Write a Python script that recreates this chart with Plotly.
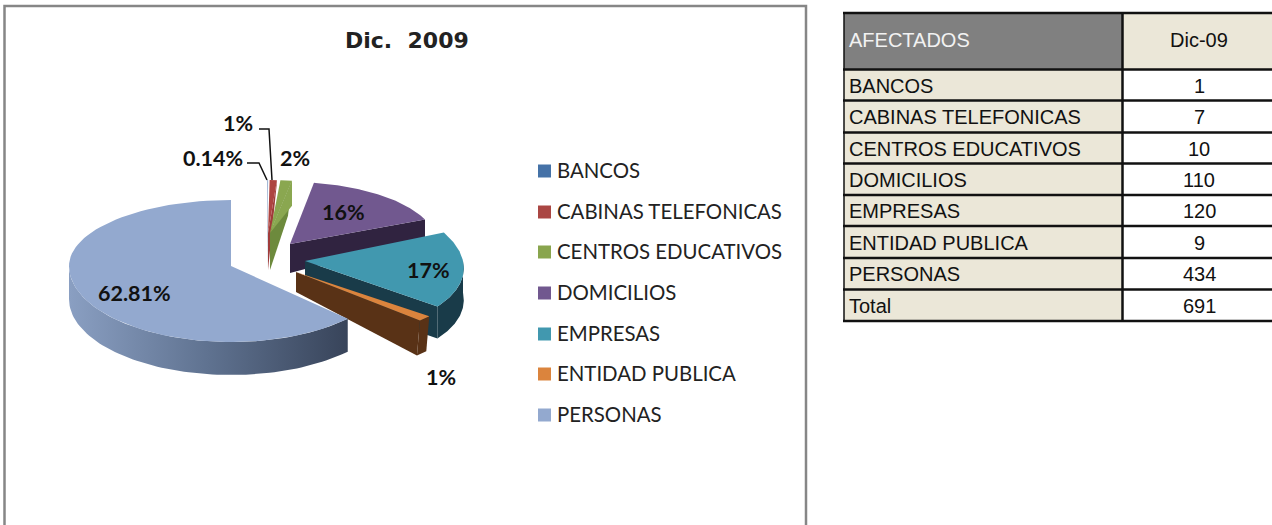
import math
import plotly.graph_objects as go

# ---------- data ----------
categories = ["BANCOS", "CABINAS TELEFONICAS", "CENTROS EDUCATIVOS", "DOMICILIOS",
              "EMPRESAS", "ENTIDAD PUBLICA", "PERSONAS"]
values = [1, 7, 10, 110, 120, 9, 434]
total_label = "Total"
total_value = 691
pct_labels = ["0.14%", "1%", "2%", "16%", "17%", "1%", "62.81%"]
title_text = "Dic.  2009"
table_head = ["AFECTADOS", "Dic-09"]

# ---------- styles ----------
top_colors = ["#a3b8d6", "#ad4441", "#8aa750", "#71588f", "#4198af", "#db843d", "#93a9cf"]
side_colors = ["#8fa3c0", "#a03c3a", "#6d8a3d", "#302340", "#193b49", "#593216", None]
swatch_colors = ["#4572a7", "#aa4643", "#89a54e", "#71588f", "#4198af", "#db843d", "#93a9cf"]

# per-slice projection: apex x, apex y, rx, ry up, ry down, shear, depth at apex, depth at rim, rim x shift
geom = [
    (267, 233, 123, 53, 53, 0.0, 37, 2, 0),
    (268, 233, 123, 53, 53, 0.0, 37, 2, 0),
    (270, 233, 135, 53, 53, 0.0, 37, 35, -4),
    (290, 244, 147, 62, 62, 0.0, 29, 18, 0),
    (305, 261, 158, 72, 72, 0.22, 32, 32, 0),
    (296, 272, 172, 70, 70, 0.0, 20, 35, -3),
    (231, 266, 162, 66, 76, 0.0, 33, 33, 0),
]
# share of the end face that catches the light (drawn in the top colour)
face_light = [0, 0, 25, 0, 0, 0, 0]


def rim(g, deg):
    cx, cy, rx, ru, rd, sh, *_ = g
    t = math.radians(deg)
    c = math.cos(t)
    y = cy - (ru if c > 0 else rd) * c
    x = cx + rx * math.sin(t) + sh * (y - cy)
    return x, y


def sweep(a, b, n=80):
    return [a + (b - a) * i / n for i in range(n + 1)]


fig = go.Figure()
total = sum(values)
cum = 0.0
bounds = []
for v in values:
    bounds.append((cum / total * 360, (cum + v) / total * 360))
    cum += v


def poly(xs, ys, name, color=None, grad=None):
    kw = dict(fillcolor=color) if color else dict(fillgradient=grad)
    fig.add_trace(go.Scatter(x=xs, y=ys, mode="lines", line=dict(width=0), fill="toself",
                             name=name, showlegend=False, hoverinfo="name", **kw))


for i, name in enumerate(categories):
    g = geom[i]
    a, b = bounds[i]
    cx, cy = g[0], g[1]
    d_in, d_out, sx = g[6], g[7], g[8]
    if i == 6:
        arc = [rim(g, t) for t in sweep(a, 270)]
        xs = [p[0] for p in arc] + [p[0] for p in arc[::-1]]
        ys = [p[1] for p in arc] + [p[1] + d_out for p in arc[::-1]]
        poly(xs, ys, name, grad=dict(type="horizontal", colorscale=[
            [0, "#8a9fc2"], [0.5, "#5f7290"], [1, "#38445a"]]))
    else:
        ex, ey = rim(g, b)
        # end face of the slice
        poly([cx, ex, ex + sx, cx], [cy, ey, ey + d_out, cy + d_in], name, side_colors[i])
        if face_light[i]:
            poly([cx, ex, ex, cx], [cy, ey, ey + face_light[i], cy], name, top_colors[i])
        # outer rim, only the part facing the viewer
        if b > 90:
            arc = [rim(g, t) for t in sweep(max(a, 90), b)]
            xs = [p[0] for p in arc] + [p[0] + sx for p in arc[::-1]]
            ys = [p[1] for p in arc] + [p[1] + d_out for p in arc[::-1]]
            poly(xs, ys, name, side_colors[i])
    arc = [rim(g, t) for t in sweep(a, b)]
    poly([cx] + [p[0] for p in arc] + [cx], [cy] + [p[1] for p in arc] + [cy], name, top_colors[i])

shapes = []
ann = []


def text(x, y, s, size, family, color="#111", anchor="center", bold=False):
    ann.append(dict(x=x, y=y, text=f"<b>{s}</b>" if bold else s, showarrow=False, xanchor=anchor,
                    yanchor="middle", font=dict(size=size, family=family, color=color),
                    xref="x", yref="y"))


# chart frame
frame_path = "M4.5,525 L4.5,6 L806,6 L806,525"
shapes.append(dict(type="path", path=frame_path, line=dict(color="#868686", width=2.5), layer="below"))

# title
text(406.5, 40, title_text, 22, "DejaVu Sans", "#222", bold=True)

# data labels
LABEL_FONT = "Lato"
label_pos = [(212.5, 158), (238, 123), (294.5, 158), (343, 212), (428, 270), (441, 377), (134.5, 293)]
for s, (x, y) in zip(pct_labels, label_pos):
    text(x, y, s, 21.5, LABEL_FONT, "#111", bold=True)

# leader lines
shapes.append(dict(type="path", path="M259,129 L269,129 L272,180", line=dict(color="#111", width=1.5)))
shapes.append(dict(type="path", path="M247,163 L259,163 L267,180", line=dict(color="#111", width=1.5)))

# legend
leg_y = [171, 212, 252, 293, 334, 374, 415]
fig.add_trace(go.Scatter(x=[544.5] * len(categories), y=leg_y, mode="markers", showlegend=False,
                         hoverinfo="skip",
                         marker=dict(symbol="square", size=13, color=swatch_colors, line=dict(width=0))))
for s, y in zip(categories, leg_y):
    text(555, y - 1, s, 20.4, LABEL_FONT, "#222", "left")

# table
TL, TM, TR = 844, 1122.5, 1274
row_y = [13, 69.5, 100.5, 132.5, 163.5, 195, 226, 258, 289.5, 321]
BEIGE = "#ebe7d8"
TFONT = "Liberation Sans"
shapes.append(dict(type="rect", x0=TL, x1=TM, y0=row_y[0], y1=row_y[1], fillcolor="#808080", line=dict(width=0)))
shapes.append(dict(type="rect", x0=TM, x1=TR, y0=row_y[0], y1=row_y[1], fillcolor=BEIGE, line=dict(width=0)))
shapes.append(dict(type="rect", x0=TL, x1=TM, y0=row_y[1], y1=row_y[-1], fillcolor=BEIGE, line=dict(width=0)))
for y in row_y:
    shapes.append(dict(type="line", x0=TL - 1, x1=TR, y0=y, y1=y, line=dict(color="#111", width=2.5)))
shapes.append(dict(type="line", x0=TL, x1=TL, y0=row_y[0], y1=row_y[-1], line=dict(color="#111", width=1.5)))
shapes.append(dict(type="line", x0=TM, x1=TM, y0=row_y[0], y1=row_y[-1], line=dict(color="#111", width=2.5)))

text(847, 40, table_head[0], 20, TFONT, "#f2f2f2", "left")
text(1199, 40, table_head[1], 20, TFONT, "#111")
rows = list(zip(categories, values)) + [(total_label, total_value)]
for j, (c, v) in enumerate(rows):
    yc = (row_y[j + 1] + row_y[j + 2]) / 2 + 0.6
    text(847, yc, c, 20, TFONT, "#111", "left")
    text(1199, yc, str(v), 20, TFONT, "#111")

fig.update_layout(
    width=1272, height=525, margin=dict(l=0, r=0, t=0, b=0, pad=0),
    paper_bgcolor="white", plot_bgcolor="white", showlegend=False,
    xaxis=dict(range=[0, 1272], visible=False, fixedrange=True),
    yaxis=dict(range=[525, 0], visible=False, fixedrange=True),
    shapes=shapes, annotations=ann,
)
fig.write_html("out.html", config={"displayModeBar": False},
               post_script="document.body.style.margin='0';document.body.style.overflow='hidden';")
